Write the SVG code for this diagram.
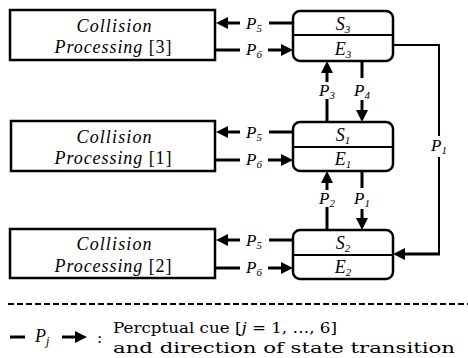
<svg xmlns="http://www.w3.org/2000/svg" width="468" height="358" viewBox="0 0 468 358">
<style>
.box{fill:#fff;stroke:#000;stroke-width:2.5}
.st{fill:#fff;stroke:#000;stroke-width:2.5}
.div{stroke:#000;stroke-width:2}
.w{stroke:#000;stroke-width:3;fill:none}
.thin{stroke:#000;stroke-width:2;fill:none}
text{font-family:"Liberation Serif","Times New Roman",serif;fill:#000}
.it{font-style:italic}
.lbl{font-size:18px;text-anchor:middle}
.pl{font-size:17px;font-style:italic;text-anchor:middle}
.sub{font-size:11px}
.leg{font-family:"DejaVu Serif","Liberation Serif",serif;font-size:15.5px}
</style>
<defs>
<marker id="ah" viewBox="0 0 12 12" refX="3" refY="6" markerWidth="12" markerHeight="12" markerUnits="userSpaceOnUse" orient="auto">
<path d="M0,0 L12,6 L0,12 z" fill="#000"/>
</marker>
</defs>

<g id="cp3">
<rect class="box" x="10" y="10" width="205" height="50"/>
<text class="lbl it" x="114" y="32" textLength="75" lengthAdjust="spacing">Collision</text>
<text class="lbl" x="113" y="53" textLength="117" lengthAdjust="spacing"><tspan class="it">Processing</tspan> [3]</text>
</g>
<g id="cp1">
<rect class="box" x="11" y="121" width="204" height="50"/>
<text class="lbl it" x="114" y="143" textLength="75" lengthAdjust="spacing">Collision</text>
<text class="lbl" x="113" y="164" textLength="117" lengthAdjust="spacing"><tspan class="it">Processing</tspan> [1]</text>
</g>
<g id="cp2">
<rect class="box" x="10" y="229" width="205" height="49"/>
<text class="lbl it" x="114" y="250" textLength="75" lengthAdjust="spacing">Collision</text>
<text class="lbl" x="113" y="272" textLength="117" lengthAdjust="spacing"><tspan class="it">Processing</tspan> [2]</text>
</g>

<g id="s3">
<rect class="st" x="293" y="11" width="100" height="50" rx="7"/>
<line class="div" x1="293" y1="35" x2="393" y2="35"/>
<text class="lbl it" x="343" y="30">S<tspan class="sub" dy="3">3</tspan></text>
<text class="lbl it" x="343" y="55">E<tspan class="sub" dy="3">3</tspan></text>
</g>
<g id="s1">
<rect class="st" x="293" y="122" width="100" height="49" rx="7"/>
<line class="div" x1="293" y1="147" x2="393" y2="147"/>
<text class="lbl it" x="343" y="141">S<tspan class="sub" dy="3">1</tspan></text>
<text class="lbl it" x="343" y="165">E<tspan class="sub" dy="3">1</tspan></text>
</g>
<g id="s2">
<rect class="st" x="293" y="230" width="100" height="49" rx="7"/>
<line class="div" x1="293" y1="255" x2="393" y2="255"/>
<text class="lbl it" x="343" y="249">S<tspan class="sub" dy="3">2</tspan></text>
<text class="lbl it" x="343" y="273">E<tspan class="sub" dy="3">2</tspan></text>
</g>

<g id="connectors">
<line class="w" x1="293" y1="23" x2="269" y2="23"/>
<line class="w" x1="240" y1="23" x2="225" y2="23" marker-end="url(#ah)"/>
<text class="pl" x="254" y="29">P<tspan class="sub" dy="3">5</tspan></text>
<line class="w" x1="215" y1="50" x2="240" y2="50"/>
<line class="w" x1="268" y1="50" x2="284" y2="50" marker-end="url(#ah)"/>
<text class="pl" x="254" y="55">P<tspan class="sub" dy="3">6</tspan></text>

<line class="w" x1="293" y1="132" x2="269" y2="132"/>
<line class="w" x1="240" y1="132" x2="225" y2="132" marker-end="url(#ah)"/>
<text class="pl" x="254" y="138">P<tspan class="sub" dy="3">5</tspan></text>
<line class="w" x1="215" y1="160" x2="240" y2="160"/>
<line class="w" x1="268" y1="160" x2="284" y2="160" marker-end="url(#ah)"/>
<text class="pl" x="254" y="165">P<tspan class="sub" dy="3">6</tspan></text>

<line class="w" x1="293" y1="240" x2="269" y2="240"/>
<line class="w" x1="240" y1="240" x2="225" y2="240" marker-end="url(#ah)"/>
<text class="pl" x="254" y="246">P<tspan class="sub" dy="3">5</tspan></text>
<line class="w" x1="215" y1="268" x2="240" y2="268"/>
<line class="w" x1="268" y1="268" x2="284" y2="268" marker-end="url(#ah)"/>
<text class="pl" x="254" y="273">P<tspan class="sub" dy="3">6</tspan></text>

<line class="w" x1="327" y1="122" x2="327" y2="99"/>
<line class="w" x1="327" y1="82" x2="327" y2="70" marker-end="url(#ah)"/>
<text class="pl" x="327" y="96">P<tspan class="sub" dy="3">3</tspan></text>
<line class="w" x1="362" y1="61" x2="362" y2="78"/>
<line class="w" x1="362" y1="100" x2="362" y2="113" marker-end="url(#ah)"/>
<text class="pl" x="362" y="96">P<tspan class="sub" dy="3">4</tspan></text>

<line class="w" x1="327" y1="230" x2="327" y2="207"/>
<line class="w" x1="327" y1="190" x2="327" y2="180" marker-end="url(#ah)"/>
<text class="pl" x="327" y="204">P<tspan class="sub" dy="3">2</tspan></text>
<line class="w" x1="362" y1="171" x2="362" y2="188"/>
<line class="w" x1="362" y1="209" x2="362" y2="221" marker-end="url(#ah)"/>
<text class="pl" x="362" y="204">P<tspan class="sub" dy="3">1</tspan></text>

<polyline class="thin" points="393,45 439,45 439,136"/>
<line class="thin" x1="439" y1="157" x2="439" y2="254"/>
<line class="w" x1="440" y1="254" x2="402" y2="254" marker-end="url(#ah)"/>
<text class="pl" x="439" y="151">P<tspan class="sub" dy="3">1</tspan></text>
</g>

<g id="legend">
<line stroke="#000" stroke-width="2" stroke-dasharray="6 3" x1="8" y1="304" x2="468" y2="304"/>
<line class="w" x1="10" y1="337" x2="25" y2="337"/>
<text class="it" x="35" y="342" font-size="18">P<tspan font-size="12" dy="3">j</tspan></text>
<line class="w" x1="62" y1="337" x2="78" y2="337" marker-end="url(#ah)"/>
<text class="leg" x="97" y="343">:</text>
<text class="leg" x="113" y="333" textLength="224" lengthAdjust="spacingAndGlyphs">Percptual cue [<tspan class="it">j</tspan> = 1, …, 6]</text>
<text class="leg" x="113" y="353" textLength="342" lengthAdjust="spacingAndGlyphs">and direction of state transition</text>
</g>
</svg>
